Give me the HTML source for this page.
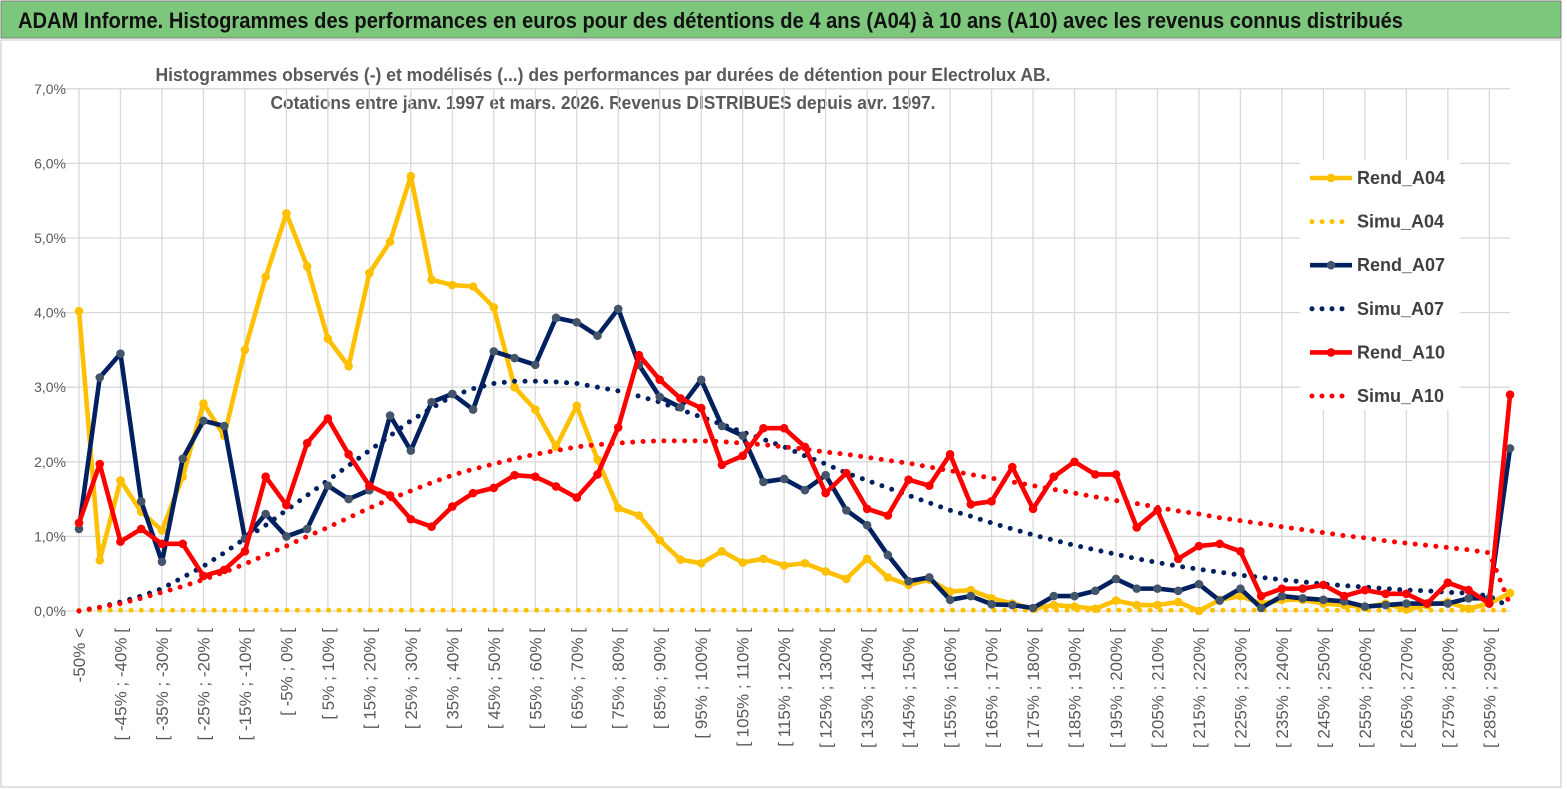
<!DOCTYPE html>
<html><head><meta charset="utf-8"><style>
html,body{margin:0;padding:0;background:#fff;}
svg{display:block;font-family:"Liberation Sans",sans-serif;}
</style></head><body>
<svg id="chart" width="1567" height="789" viewBox="0 0 1567 789" xmlns="http://www.w3.org/2000/svg">
<rect x="0" y="0" width="1567" height="789" fill="#fff"/>
<rect x="1" y="1" width="1560" height="37" fill="#7dc77d" stroke="#808080" stroke-width="1"/>
<text x="18" y="28" font-size="22" font-weight="bold" fill="#111" textLength="1385" lengthAdjust="spacingAndGlyphs">ADAM Informe. Histogrammes des performances en euros pour des détentions de 4 ans (A04) à 10 ans (A10) avec les revenus connus distribués</text>
<rect x="1" y="40" width="1560" height="747" fill="none" stroke="#d9d9d9" stroke-width="1.5"/>
<text x="603" y="81" text-anchor="middle" font-size="18" font-weight="bold" fill="#595959" textLength="895" lengthAdjust="spacingAndGlyphs">Histogrammes observés (-) et modélisés (...) des performances par durées de détention pour Electrolux AB.</text>
<text x="603" y="109" text-anchor="middle" font-size="18" font-weight="bold" fill="#595959" textLength="665" lengthAdjust="spacingAndGlyphs">Cotations entre janv. 1997 et mars. 2026. Revenus DISTRIBUES depuis avr. 1997.</text>
<g id="grid"></g><g id="ylabels"></g><g id="xlabels"></g><g id="series"></g><g id="legend"></g>
</svg>
<script>
const categories = ["-50% <"];
for (let k = 1; k < 70; k++) categories.push("[ " + (-55 + 5 * k) + "% ; " + (-50 + 5 * k) + "% [");
const yTicks = [0,1,2,3,4,5,6,7];
const rendA04 = [4.02,0.68,1.75,1.33,1.08,1.8,2.78,2.35,3.5,4.48,5.33,4.62,3.65,3.28,4.53,4.95,5.83,4.44,4.37,4.35,4.07,3.0,2.7,2.2,2.75,2.03,1.38,1.28,0.95,0.69,0.64,0.8,0.65,0.7,0.61,0.64,0.53,0.43,0.7,0.45,0.35,0.42,0.26,0.28,0.17,0.1,0.03,0.08,0.06,0.03,0.14,0.08,0.08,0.12,0.0,0.15,0.2,0.1,0.15,0.15,0.1,0.08,0.05,0.1,0.02,0.08,0.12,0.03,0.1,0.24];
const simuA04 = new Array(70).fill(0.01);
const rendA07 = [1.1,3.13,3.45,1.47,0.66,2.04,2.55,2.48,0.97,1.3,1.0,1.1,1.68,1.5,1.62,2.62,2.15,2.8,2.91,2.7,3.48,3.39,3.3,3.93,3.87,3.69,4.05,3.3,2.87,2.73,3.1,2.48,2.35,1.73,1.77,1.62,1.82,1.35,1.15,0.75,0.4,0.45,0.15,0.2,0.09,0.08,0.04,0.2,0.2,0.27,0.43,0.3,0.3,0.27,0.36,0.14,0.3,0.04,0.2,0.17,0.15,0.13,0.06,0.08,0.1,0.1,0.1,0.17,0.17,2.18];
const simuA07 = [0.0,0.05,0.12,0.2,0.3,0.45,0.6,0.78,0.97,1.15,1.35,1.55,1.75,1.95,2.15,2.35,2.55,2.72,2.88,2.98,3.05,3.08,3.08,3.07,3.05,3.0,2.95,2.88,2.8,2.7,2.6,2.5,2.4,2.3,2.2,2.08,1.97,1.85,1.75,1.65,1.55,1.45,1.35,1.27,1.18,1.1,1.02,0.95,0.88,0.82,0.76,0.7,0.65,0.6,0.56,0.52,0.48,0.45,0.42,0.39,0.36,0.34,0.32,0.3,0.28,0.27,0.25,0.24,0.2,0.05];
const rendA10 = [1.18,1.97,0.93,1.1,0.9,0.9,0.47,0.55,0.8,1.8,1.42,2.25,2.58,2.1,1.68,1.55,1.23,1.13,1.4,1.58,1.65,1.82,1.8,1.67,1.52,1.83,2.46,3.43,3.1,2.85,2.72,1.96,2.08,2.45,2.45,2.2,1.58,1.85,1.37,1.28,1.76,1.68,2.1,1.43,1.47,1.93,1.37,1.8,2.0,1.83,1.83,1.12,1.35,0.7,0.87,0.9,0.8,0.2,0.3,0.3,0.35,0.2,0.28,0.23,0.23,0.1,0.38,0.28,0.1,2.9];
const simuA10 = [0.0,0.05,0.1,0.17,0.25,0.33,0.42,0.52,0.63,0.75,0.87,1.0,1.12,1.25,1.38,1.5,1.61,1.72,1.82,1.9,1.97,2.04,2.1,2.15,2.2,2.23,2.25,2.27,2.28,2.28,2.28,2.27,2.25,2.23,2.2,2.17,2.13,2.1,2.06,2.02,1.98,1.93,1.88,1.83,1.78,1.73,1.68,1.63,1.58,1.53,1.48,1.44,1.39,1.34,1.3,1.25,1.21,1.17,1.13,1.09,1.05,1.01,0.98,0.94,0.91,0.88,0.85,0.82,0.78,0.08];

const NS = "http://www.w3.org/2000/svg";
const X0 = 79, DX = 20.74, Y0 = 611, PPU = 74.6;
const xs = i => X0 + i * DX;
const ys = v => Y0 - v * PPU;
function mk(tag, attrs, parent) {
  const e = document.createElementNS(NS, tag);
  for (const k in attrs) e.setAttribute(k, attrs[k]);
  parent.appendChild(e); return e;
}
const grid = document.getElementById('grid');
yTicks.forEach(t => {
  const l = mk('line', {x1: 62, x2: 1510, y1: ys(t), y2: ys(t), stroke: '#d9d9d9', 'stroke-width': 1.3}, grid);
  
  
  const tx = mk('text', {x: 66, y: ys(t) + 5, 'text-anchor': 'end', 'font-size': 14, fill: '#595959'}, document.getElementById('ylabels'));
  tx.textContent = t.toFixed(1).replace('.', ',') + '%';
  
  
});
for (let i = 0; i < categories.length; i += 2) {
  const l = mk('line', {x1: xs(i), x2: xs(i), y1: ys(7), y2: Y0, stroke: '#d9d9d9', 'stroke-width': 1.3}, grid);
  
  
  const tx = mk('text', {transform: 'translate(' + (xs(i) + 6) + ',628) rotate(-90)', 'text-anchor': 'end', 'font-size': 17, fill: '#595959'}, document.getElementById('xlabels'));
  tx.textContent = categories[i];
  
  
}
const S = document.getElementById('series');
function dotted(arr, color, name) {
  const g = mk('g', {}, S);
  
  
  const pts = arr.map((v, i) => xs(i) + ',' + ys(v)).join(' ');
  mk('polyline', {points: pts, fill: 'none', stroke: color, 'stroke-width': 5, 'stroke-linecap': 'round', 'stroke-dasharray': '0 10.4'}, g);
}
function solid(arr, color, mcolor, name) {
  const g = mk('g', {}, S);
  
  
  const pts = arr.map((v, i) => xs(i) + ',' + ys(v)).join(' ');
  mk('polyline', {points: pts, fill: 'none', stroke: color, 'stroke-width': 4.6, 'stroke-linejoin': 'round'}, g);
  arr.forEach((v, i) => {
    const c = mk('circle', {cx: xs(i), cy: ys(v), r: 4.3, fill: mcolor}, g);
    
    
  });
}
dotted(simuA04, '#ffc000', 'simu-a04-line');
solid(rendA04, '#ffc000', '#ffc000', 'rend-a04-line');
dotted(simuA07, '#002060', 'simu-a07-line');
solid(rendA07, '#002060', '#44546a', 'rend-a07-line');
dotted(simuA10, '#ff0000', 'simu-a10-line');
solid(rendA10, '#ff0000', '#ff0000', 'rend-a10-line');

const legendNames = ["Rend_A04","Simu_A04","Rend_A07","Simu_A07","Rend_A10","Simu_A10"];
const legendColors = ['#ffc000','#ffc000','#002060','#002060','#ff0000','#ff0000'];
const L = document.getElementById('legend');
mk('rect', {x: 1300, y: 160, width: 160, height: 250, fill: '#fff'}, L);
legendNames.forEach((n, i) => {
  const y = 178 + i * 43.6;
  const g = mk('g', {}, L);
  
  
  if (i % 2 === 0) {
    mk('line', {x1: 1310, x2: 1352, y1: y, y2: y, stroke: legendColors[i], 'stroke-width': 4.6}, g);
    mk('circle', {cx: 1331, cy: y, r: 4.3, fill: i === 2 ? '#44546a' : legendColors[i]}, g);
  } else {
    mk('line', {x1: 1312, x2: 1352, y1: y, y2: y, stroke: legendColors[i], 'stroke-width': 5, 'stroke-linecap': 'round', 'stroke-dasharray': '0 10'}, g);
  }
  const t = mk('text', {x: 1357, y: y + 6, 'font-size': 18, 'font-weight': 'bold', fill: '#404040'}, g);
  t.textContent = n;
});
</script>
</body></html>
